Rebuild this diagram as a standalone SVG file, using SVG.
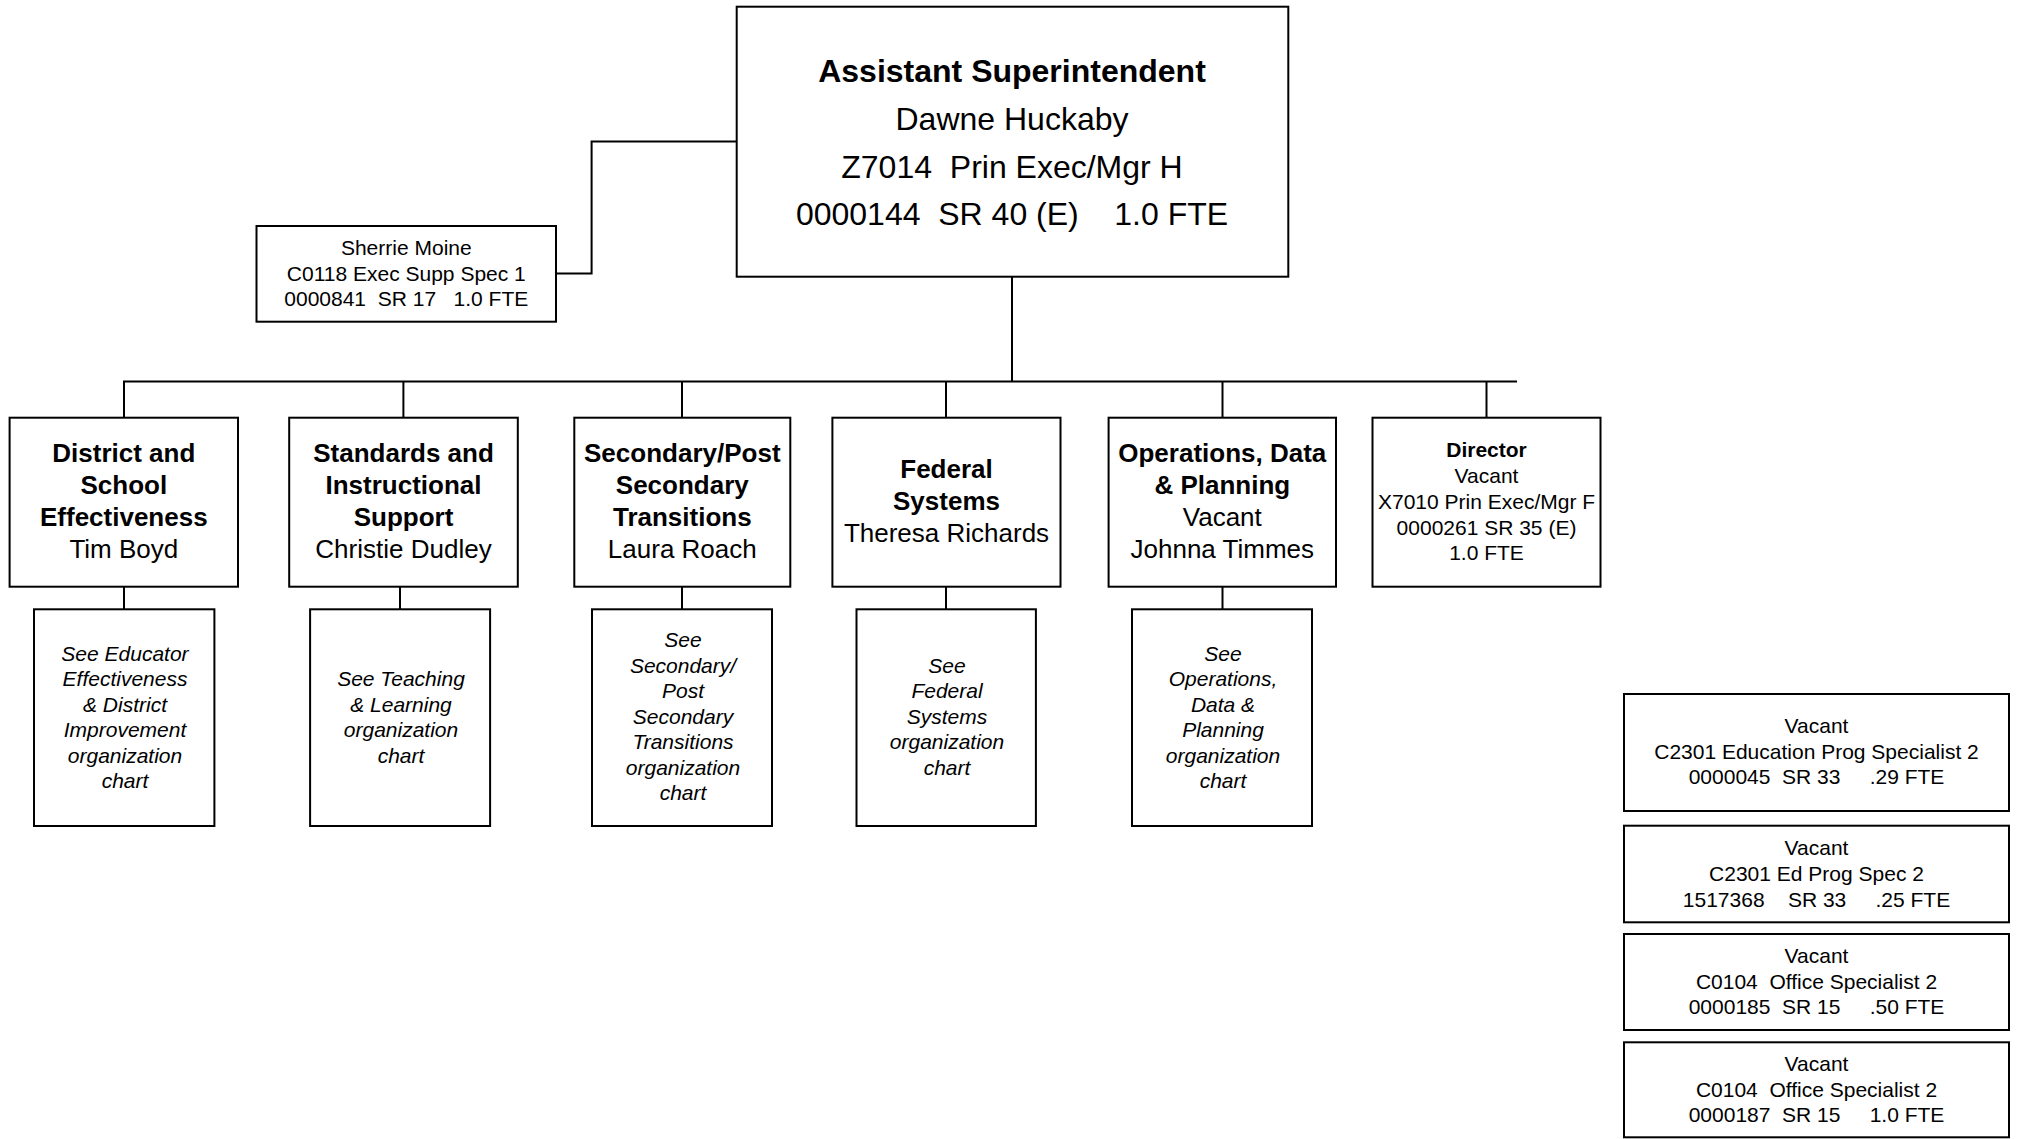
<svg xmlns="http://www.w3.org/2000/svg" width="2021" height="1139" viewBox="0 0 2021 1139">
<style>
.box{fill:#fff;stroke:#000;stroke-width:2}
.ln{fill:none;stroke:#000;stroke-width:2}
text{font-family:"Liberation Sans",Arial,sans-serif;fill:#000;text-anchor:middle;white-space:pre}
.t32{font-size:32px}
.t26{font-size:26px}
.t21{font-size:21px}
.b{font-weight:bold}
.i{font-style:italic}
</style>
<rect width="2021" height="1139" fill="#fff"/>
<g id="connectors">
<polyline class="ln" points="736.7,141.5 591.6,141.5 591.6,273.5 556,273.5"/>
<line class="ln" x1="1012" y1="276.7" x2="1012" y2="381.5"/>
<line class="ln" x1="123" y1="381.5" x2="1517" y2="381.5"/>
<line class="ln" x1="124" y1="381.5" x2="124" y2="417.7"/>
<line class="ln" x1="403.4" y1="381.5" x2="403.4" y2="417.7"/>
<line class="ln" x1="682" y1="381.5" x2="682" y2="417.7"/>
<line class="ln" x1="946" y1="381.5" x2="946" y2="417.7"/>
<line class="ln" x1="1222.5" y1="381.5" x2="1222.5" y2="417.7"/>
<line class="ln" x1="1486.5" y1="381.5" x2="1486.5" y2="417.7"/>
<line class="ln" x1="124" y1="586.7" x2="124" y2="609.3"/>
<line class="ln" x1="400" y1="586.7" x2="400" y2="609.3"/>
<line class="ln" x1="682" y1="586.7" x2="682" y2="609.3"/>
<line class="ln" x1="946" y1="586.7" x2="946" y2="609.3"/>
<line class="ln" x1="1222.5" y1="586.7" x2="1222.5" y2="609.3"/>
</g>
<g id="asst-supt">
<rect class="box" x="736.7" y="6.7" width="551.6" height="270"/>
<text class="t32 b" x="1012" y="81.5">Assistant Superintendent</text>
<text class="t32" x="1012" y="130">Dawne Huckaby</text>
<text class="t32" x="1012" y="177.8">Z7014  Prin Exec/Mgr H</text>
<text class="t32" x="1012" y="225">0000144  SR 40 (E)    1.0 FTE</text>
</g>
<g id="sherrie">
<rect class="box" x="256.5" y="226" width="299.5" height="95.7"/>
<text class="t21" x="406.3" y="255">Sherrie Moine</text>
<text class="t21" x="406.3" y="280.5">C0118 Exec Supp Spec 1</text>
<text class="t21" x="406.3" y="306">0000841  SR 17   1.0 FTE</text>
</g>
<g id="district">
<rect class="box" x="9.6" y="417.7" width="228.4" height="169"/>
<text class="t26 b" x="123.8" y="461.5">District and</text>
<text class="t26 b" x="123.8" y="493.5">School</text>
<text class="t26 b" x="123.8" y="525.5">Effectiveness</text>
<text class="t26" x="123.8" y="557.5">Tim Boyd</text>
</g>
<g id="standards">
<rect class="box" x="289.2" y="417.7" width="228.6" height="169"/>
<text class="t26 b" x="403.5" y="461.5">Standards and</text>
<text class="t26 b" x="403.5" y="493.5">Instructional</text>
<text class="t26 b" x="403.5" y="525.5">Support</text>
<text class="t26" x="403.5" y="557.5">Christie Dudley</text>
</g>
<g id="secondary">
<rect class="box" x="574.3" y="417.7" width="216" height="169"/>
<text class="t26 b" x="682.3" y="461.5">Secondary/Post</text>
<text class="t26 b" x="682.3" y="493.5">Secondary</text>
<text class="t26 b" x="682.3" y="525.5">Transitions</text>
<text class="t26" x="682.3" y="557.5">Laura Roach</text>
</g>
<g id="federal">
<rect class="box" x="832.4" y="417.7" width="228.1" height="169"/>
<text class="t26 b" x="946.5" y="478">Federal</text>
<text class="t26 b" x="946.5" y="510">Systems</text>
<text class="t26" x="946.5" y="541.5">Theresa Richards</text>
</g>
<g id="operations">
<rect class="box" x="1108.6" y="417.7" width="227.4" height="169"/>
<text class="t26 b" x="1222.3" y="461.5">Operations, Data</text>
<text class="t26 b" x="1222.3" y="493.5">&amp; Planning</text>
<text class="t26" x="1222.3" y="525.5">Vacant</text>
<text class="t26" x="1222.3" y="557.5">Johnna Timmes</text>
</g>
<g id="director">
<rect class="box" x="1372.5" y="417.7" width="228" height="169"/>
<text class="t21 b" x="1486.5" y="456.7">Director</text>
<text class="t21" x="1486.5" y="483.3">Vacant</text>
<text class="t21" x="1486.5" y="509">X7010 Prin Exec/Mgr F</text>
<text class="t21" x="1486.5" y="535">0000261 SR 35 (E)</text>
<text class="t21" x="1486.5" y="560">1.0 FTE</text>
</g>
<g id="see-educator">
<rect class="box" x="34" y="609.3" width="180.4" height="216.7"/>
<text class="t21 i" x="125" y="660.5">See Educator</text>
<text class="t21 i" x="125" y="686">Effectiveness</text>
<text class="t21 i" x="125" y="711.5">&amp; District</text>
<text class="t21 i" x="125" y="737">Improvement</text>
<text class="t21 i" x="125" y="762.5">organization</text>
<text class="t21 i" x="125" y="788">chart</text>
</g>
<g id="see-teaching">
<rect class="box" x="310.1" y="609.3" width="180" height="216.7"/>
<text class="t21 i" x="401" y="686">See Teaching</text>
<text class="t21 i" x="401" y="711.5">&amp; Learning</text>
<text class="t21 i" x="401" y="737">organization</text>
<text class="t21 i" x="401" y="762.5">chart</text>
</g>
<g id="see-secondary">
<rect class="box" x="592" y="609.3" width="180" height="216.7"/>
<text class="t21 i" x="683" y="647.2">See</text>
<text class="t21 i" x="683" y="672.8">Secondary/</text>
<text class="t21 i" x="683" y="698.3">Post</text>
<text class="t21 i" x="683" y="723.8">Secondary</text>
<text class="t21 i" x="683" y="749.3">Transitions</text>
<text class="t21 i" x="683" y="774.8">organization</text>
<text class="t21 i" x="683" y="800.3">chart</text>
</g>
<g id="see-federal">
<rect class="box" x="856.5" y="609.3" width="179.4" height="216.7"/>
<text class="t21 i" x="947" y="672.8">See</text>
<text class="t21 i" x="947" y="698.3">Federal</text>
<text class="t21 i" x="947" y="723.8">Systems</text>
<text class="t21 i" x="947" y="749.3">organization</text>
<text class="t21 i" x="947" y="774.8">chart</text>
</g>
<g id="see-operations">
<rect class="box" x="1132" y="609.3" width="180" height="216.7"/>
<text class="t21 i" x="1223" y="660.5">See</text>
<text class="t21 i" x="1223" y="686">Operations,</text>
<text class="t21 i" x="1223" y="711.5">Data &amp;</text>
<text class="t21 i" x="1223" y="737">Planning</text>
<text class="t21 i" x="1223" y="762.5">organization</text>
<text class="t21 i" x="1223" y="788">chart</text>
</g>
<g id="vacant-0000045">
<rect class="box" x="1624" y="694" width="385" height="117"/>
<text class="t21" x="1816.5" y="733">Vacant</text>
<text class="t21" x="1816.5" y="758.5">C2301 Education Prog Specialist 2</text>
<text class="t21" x="1816.5" y="784">0000045  SR 33     .29 FTE</text>
</g>
<g id="vacant-1517368">
<rect class="box" x="1624" y="825.7" width="385" height="96.6"/>
<text class="t21" x="1816.5" y="855">Vacant</text>
<text class="t21" x="1816.5" y="881">C2301 Ed Prog Spec 2</text>
<text class="t21" x="1816.5" y="907">1517368    SR 33     .25 FTE</text>
</g>
<g id="vacant-0000185">
<rect class="box" x="1624" y="934" width="385" height="96"/>
<text class="t21" x="1816.5" y="962.5">Vacant</text>
<text class="t21" x="1816.5" y="988.5">C0104  Office Specialist 2</text>
<text class="t21" x="1816.5" y="1014">0000185  SR 15     .50 FTE</text>
</g>
<g id="vacant-0000187">
<rect class="box" x="1624" y="1042.3" width="385" height="95"/>
<text class="t21" x="1816.5" y="1070.5">Vacant</text>
<text class="t21" x="1816.5" y="1096.5">C0104  Office Specialist 2</text>
<text class="t21" x="1816.5" y="1122">0000187  SR 15     1.0 FTE</text>
</g>
</svg>
